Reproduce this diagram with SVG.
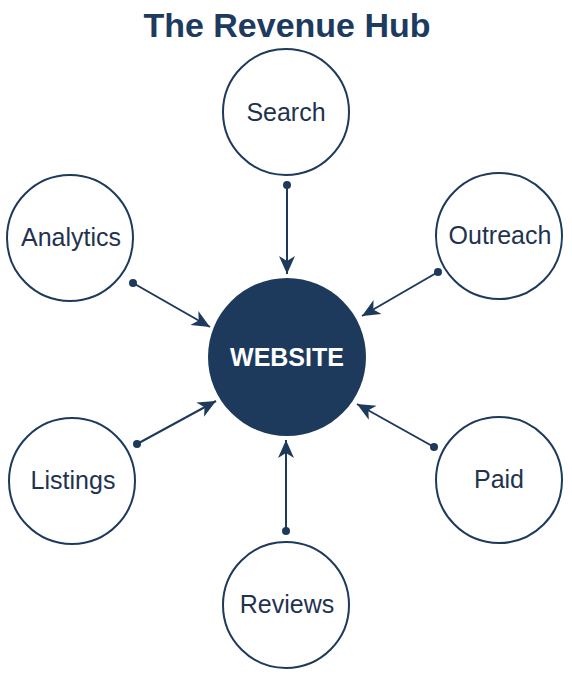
<svg xmlns="http://www.w3.org/2000/svg" width="572" height="678" viewBox="0 0 572 678">
<style>
.node{fill:#fff;stroke:#1d3a5c;stroke-width:2}
.lbl{font-family:"Liberation Sans",Arial,sans-serif;font-size:25px;fill:#1f3350;text-anchor:middle}
.conn{stroke:#1d3a5c;stroke-width:2;fill:none}
.dot{fill:#1d3a5c}
</style>
<defs>
<marker id="arr" markerUnits="userSpaceOnUse" markerWidth="20" markerHeight="18" viewBox="0 0 20 18" refX="18" refY="9" orient="auto">
<path d="M0,1 L18,9 L0,17 L5,9 z" fill="#1d3a5c"/>
</marker>
</defs>
<rect width="572" height="678" fill="#fff"/>
<text x="287" y="37" style="font-family:'Liberation Sans',Arial,sans-serif;font-size:34px;font-weight:bold;fill:#1d3a5f;text-anchor:middle">The Revenue Hub</text>
<g id="connectors">
<line class="conn" x1="287" y1="185" x2="287" y2="274" marker-end="url(#arr)"/>
<circle class="dot" cx="287" cy="185" r="4"/>
<line class="conn" x1="133" y1="283" x2="210" y2="327" marker-end="url(#arr)"/>
<circle class="dot" cx="133" cy="283" r="4"/>
<line class="conn" x1="438" y1="272" x2="362" y2="316" marker-end="url(#arr)"/>
<circle class="dot" cx="438" cy="272" r="4"/>
<line class="conn" x1="137" y1="444" x2="216" y2="401" marker-end="url(#arr)"/>
<circle class="dot" cx="137" cy="444" r="4"/>
<line class="conn" x1="434" y1="447" x2="357" y2="404" marker-end="url(#arr)"/>
<circle class="dot" cx="434" cy="447" r="4"/>
<line class="conn" x1="286" y1="531" x2="286" y2="440" marker-end="url(#arr)"/>
<circle class="dot" cx="286" cy="531" r="4"/>
</g>
<g id="website">
<circle cx="287" cy="357" r="79" fill="#1d3a5c"/>
<text x="287" y="366" style="font-family:'Liberation Sans',Arial,sans-serif;font-size:25px;font-weight:bold;fill:#fff;text-anchor:middle">WEBSITE</text>
</g>
<g id="search">
<circle class="node" cx="286" cy="112" r="63"/>
<text class="lbl" x="286" y="121">Search</text>
</g>
<g id="analytics">
<circle class="node" cx="70" cy="238" r="63"/>
<text class="lbl" x="71" y="246">Analytics</text>
</g>
<g id="outreach">
<circle class="node" cx="499" cy="236" r="63"/>
<text class="lbl" x="500" y="244">Outreach</text>
</g>
<g id="listings">
<circle class="node" cx="72" cy="481" r="63"/>
<text class="lbl" x="73" y="489">Listings</text>
</g>
<g id="paid">
<circle class="node" cx="499" cy="480" r="63"/>
<text class="lbl" x="499" y="488">Paid</text>
</g>
<g id="reviews">
<circle class="node" cx="286" cy="605" r="63"/>
<text class="lbl" x="287" y="613">Reviews</text>
</g>
</svg>
